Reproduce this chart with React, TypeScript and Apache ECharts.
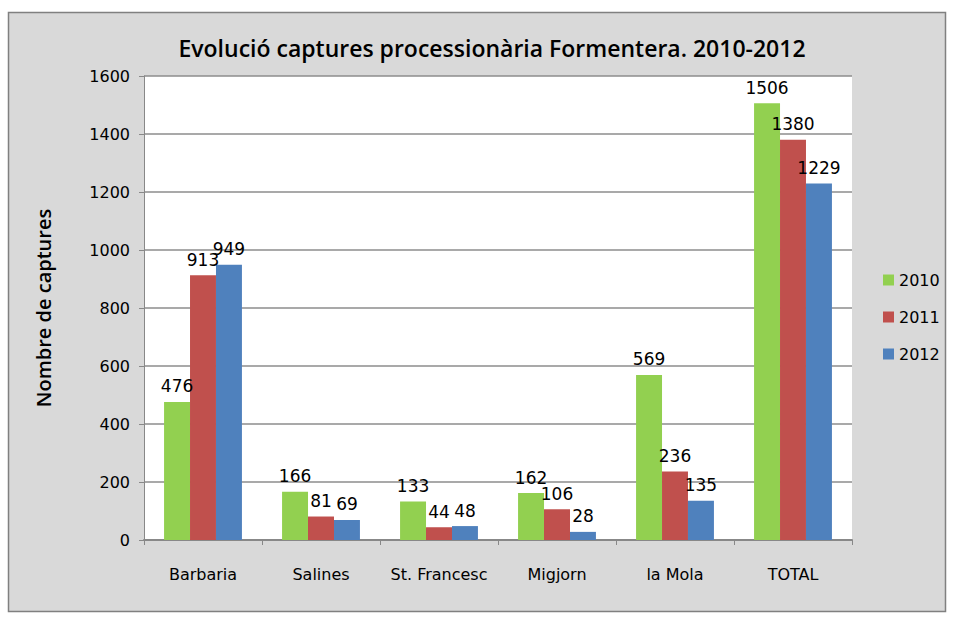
import React, { useEffect, useRef } from "react";
import * as echarts from "echarts";

const categories = ["Barbaria", "Salines", "St. Francesc", "Migjorn", "la Mola", "TOTAL"];
const years = ["2010", "2011", "2012"];
const values2010 = [476, 166, 133, 162, 569, 1506];
const values2011 = [913, 81, 44, 106, 236, 1380];
const values2012 = [949, 69, 48, 28, 135, 1229];
const colors = ["#92d050", "#c0504d", "#4f81bd"];

export default function App() {
  const ref = useRef<HTMLDivElement>(null);
  useEffect(() => {
    const chart = echarts.init(ref.current!, undefined, { renderer: "svg" });
    const font = "'DejaVu Sans', sans-serif";
    const mk = (name: string, data: number[], color: string) => ({
      name,
      type: "bar",
      data,
      barGap: "0%",
      barCategoryGap: "34%",
      itemStyle: { color },
      label: {
        show: true,
        position: "top",
        distance: 7,
        color: "#000",
        fontFamily: font,
        fontSize: 17,
      },
    });
    chart.setOption({
      animation: false,
      backgroundColor: "#ffffff",
      graphic: [
        {
          type: "rect",
          z: -10,
          silent: true,
          shape: { x: 8.5, y: 12.5, width: 937, height: 599 },
          style: { fill: "#d9d9d9", stroke: "#808080", lineWidth: 1.5 },
        },
        {
          type: "rect",
          z: -9,
          silent: true,
          shape: { x: 144, y: 76, width: 708, height: 464 },
          style: { fill: "#ffffff" },
        },
      ],
      title: {
        text: "Evolució captures processionària Formentera. 2010-2012",
        left: 487,
        top: 31,
        textAlign: "center",
        textStyle: {
          fontFamily: "'Open Sans', sans-serif",
          fontWeight: 600,
          fontSize: 23,
          color: "#000",
        },
      },
      legend: {
        orient: "vertical",
        left: 878,
        top: 267,
        itemWidth: 11,
        itemHeight: 11,
        itemGap: 21,
        icon: "rect",
        data: years,
        textStyle: { fontFamily: font, fontSize: 16, color: "#000" },
      },
      grid: { left: 144, right: 101, top: 76, bottom: 77, containLabel: false },
      xAxis: {
        type: "category",
        data: categories,
        axisLine: { lineStyle: { color: "#888888", width: 2 } },
        axisTick: { show: true, length: 5, lineStyle: { color: "#888888" } },
        axisLabel: {
          color: "#000",
          fontFamily: font,
          fontSize: 16,
          margin: 26,
          interval: 0,
          hideOverlap: false,
        },
      },
      yAxis: {
        type: "value",
        min: 0,
        max: 1600,
        interval: 200,
        name: "Nombre de captures",
        nameLocation: "middle",
        nameGap: 91,
        nameTextStyle: {
          fontFamily: "'Open Sans', sans-serif",
          fontWeight: 600,
          fontSize: 20,
          color: "#000",
        },
        axisLine: { show: true, lineStyle: { color: "#888888" } },
        axisTick: { show: true, inside: false, length: 5, lineStyle: { color: "#888888" } },
        axisLabel: {
          color: "#000",
          fontFamily: font,
          fontSize: 16,
          margin: 14,
          formatter: (v: number) => String(v),
        },
        splitLine: { show: true, lineStyle: { color: "#8c8c8c", width: 1.5 } },
      },
      series: [
        mk(years[0], values2010, colors[0]),
        mk(years[1], values2011, colors[1]),
        mk(years[2], values2012, colors[2]),
      ],
    });
    return () => chart.dispose();
  }, []);
  return (
    <div
      ref={ref}
      style={{ position: "fixed", left: 0, top: 0, width: 953, height: 617 }}
    />
  );
}
